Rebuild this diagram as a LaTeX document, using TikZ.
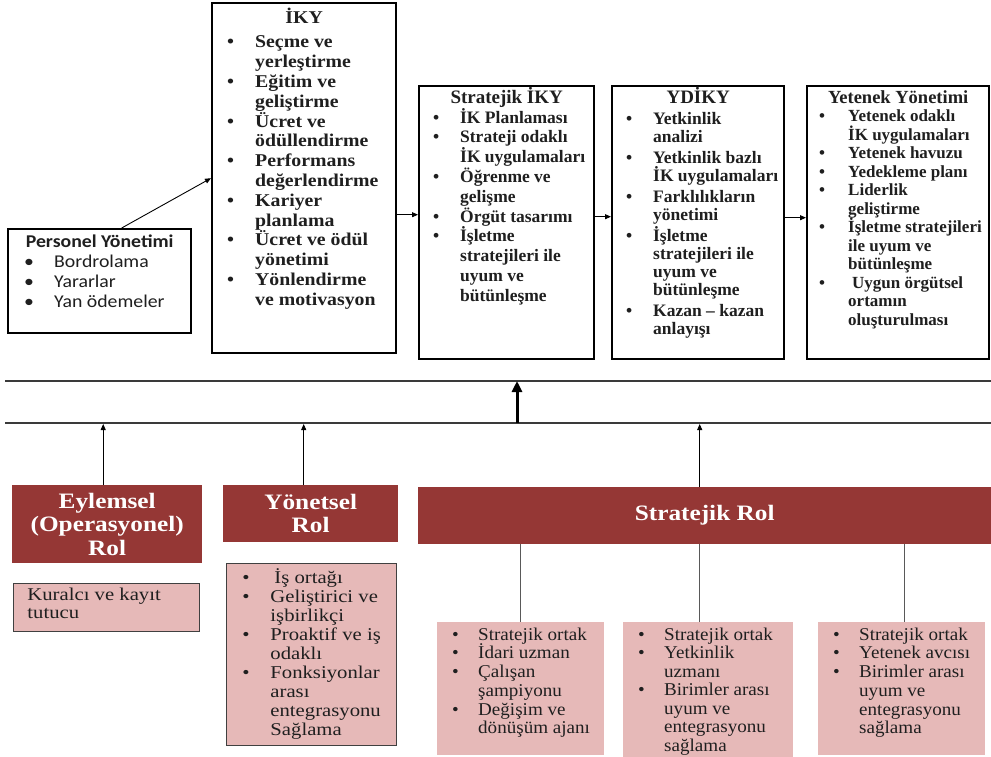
\documentclass[tikz,border=0pt]{standalone}
\usepackage{fontspec}
\setmainfont{Liberation Serif}
\newfontfamily\wideserif[FakeStretch=1.15]{Liberation Serif}
\newfontfamily\ikyserif[FakeStretch=1.1]{Liberation Serif}
\newfontfamily\midserif[FakeStretch=1.06]{Liberation Serif}
\newfontfamily\calibri[FakeStretch=1.1]{Carlito}
\usetikzlibrary{arrows.meta,positioning,calc}
\definecolor{rolered}{HTML}{953735}
\definecolor{rolepink}{HTML}{E6B9B8}
\definecolor{pinkedge}{HTML}{404040}
\definecolor{linegray}{HTML}{595959}
\definecolor{railgray}{HTML}{3A3A3A}
\definecolor{inktext}{HTML}{1F1F1F}

\newlength\bulx \newlength\txtx \newlength\itemgap
\setlength\bulx{15pt}\setlength\txtx{43pt}\setlength\itemgap{0pt}
\newcommand\bitem[1]{\par\vspace{\itemgap}\hangindent=\txtx\hangafter=1\noindent
  \makebox[\txtx][l]{\hspace*{\bulx}\textbullet}#1}
\newcommand\btitle[1]{\par\noindent\hbox to\linewidth{\hss#1\hss}}
% width, height, first baseline, font setup, content
\newcommand\cellbox[5]{\parbox[c][#2][t]{#1}{#4\lineskiplimit=-100pt\relax\raggedright
  \hbox{}\vskip\dimexpr#3-\baselineskip\relax#5}}

\begin{document}
\begin{tikzpicture}[x=1pt,y=-1pt,
  hrbox/.style={draw=black,line width=2.4pt,inner sep=0pt,anchor=north west,text=inktext},
  rolebox/.style={fill=rolered,text=white,inner sep=0pt,anchor=north west,align=center,
    font=\wideserif\bfseries\fontsize{22}{23.5}\selectfont},
  notebox/.style={fill=rolepink,inner sep=0pt,anchor=north west,text=inktext},
  link/.style={-{Triangle[length=6pt,width=5pt]},line width=0.9pt},
  bigup/.style={-{Triangle[length=11pt,width=10pt]},line width=3pt},
  rail/.style={draw=railgray,line width=1.2pt},
  drop/.style={draw=linegray,line width=1.3pt},
]
\useasboundingbox (0,0) rectangle (991,757);

% ============ upper row: HR stages ============
\node[hrbox] (pers) at (7,228) {\cellbox{183pt}{104pt}{18pt}%
  {\calibri\fontsize{18}{20}\selectfont\setlength\bulx{16pt}\setlength\txtx{46pt}}{%
  \btitle{\bfseries Personel Yönetimi}
  \bitem{Bordrolama}
  \bitem{Yararlar}
  \bitem{Yan ödemeler}}};
\node[hrbox] (iky) at (211,2) {\cellbox{184pt}{350pt}{20pt}%
  {\ikyserif\bfseries\fontsize{18}{19.8}\selectfont}{%
  \btitle{İKY}\par\vspace{5pt}
  \bitem{Seçme ve\newline yerleştirme}
  \bitem{Eğitim ve\newline geliştirme}
  \bitem{Ücret ve\newline ödüllendirme}
  \bitem{Performans\newline değerlendirme}
  \bitem{Kariyer\newline planlama}
  \bitem{Ücret ve ödül\newline yönetimi}
  \bitem{Yönlendirme\newline ve motivasyon}}};
\node[hrbox] (sik) at (418,85) {\cellbox{175pt}{273pt}{17pt}%
  {\bfseries\fontsize{17.5}{19.8}\selectfont\setlength\bulx{14pt}\setlength\txtx{41pt}}{%
  \btitle{\fontsize{19}{19.8}\selectfont Stratejik İKY}
  \bitem{İK Planlaması}
  \bitem{Strateji odaklı\newline İK uygulamaları}
  \bitem{Öğrenme ve\newline gelişme}
  \bitem{Örgüt tasarımı}
  \bitem{İşletme\newline stratejileri ile\newline uyum ve\newline bütünleşme}}};
\node[hrbox] (ydk) at (611,85) {\cellbox{172pt}{273pt}{17pt}%
  {\bfseries\fontsize{17.5}{18}\selectfont\setlength\bulx{14pt}\setlength\txtx{41pt}\setlength\itemgap{3pt}}{%
  \btitle{\fontsize{19}{18}\selectfont YDİKY}
  \bitem{Yetkinlik\newline analizi}
  \bitem{Yetkinlik bazlı\newline İK uygulamaları}
  \bitem{Farklılıkların\newline yönetimi}
  \bitem{İşletme\newline stratejileri ile\newline uyum ve\newline bütünleşme}
  \bitem{Kazan – kazan\newline anlayışı}}};
\node[hrbox] (ytn) at (806,85) {\cellbox{182pt}{273pt}{17pt}%
  {\bfseries\fontsize{17}{18.5}\selectfont\setlength\bulx{12pt}\setlength\txtx{41pt}}{%
  \btitle{\fontsize{18.5}{18.5}\selectfont Yetenek Yönetimi}
  \bitem{Yetenek odaklı\newline İK uygulamaları}
  \bitem{Yetenek havuzu}
  \bitem{Yedekleme planı}
  \bitem{Liderlik\newline geliştirme}
  \bitem{İşletme stratejileri\newline ile uyum ve\newline bütünleşme}
  \bitem{\hspace*{4pt}Uygun örgütsel\newline ortamın\newline oluşturulması}}};

\draw[link] ($(pers.north)+(22,0)$) -- (iky.west);
\draw[link] ($(sik.west -| iky.east)+(0,-8)$) -- ($(sik.west)+(0,-8)$);
\draw[link] ($(ydk.west -| sik.east)+(0,-6)$) -- ($(ydk.west)+(0,-6)$);
\draw[link] ($(ytn.west -| ydk.east)+(0,-5)$) -- ($(ytn.west)+(0,-5)$);

% ============ rails ============
\coordinate (railAw) at (5,381);
\coordinate (railAe) at (991,381);
\coordinate (railBw) at (5,423);
\coordinate (railBe) at (991,423);
\coordinate (hub) at (517,423);
\draw[rail] (railAw) -- (railAe);
\draw[rail] (railBw) -- (railBe);
\draw[bigup] (hub) -- (hub |- railAw);

% ============ lower row: roles ============
\node[rolebox,minimum width=190pt,minimum height=78pt] (eyl) at (12,485) {Eylemsel\\(Operasyonel)\\Rol};
\node[rolebox,minimum width=175pt,minimum height=57pt] (ynt) at (223,485) {Yönetsel\\Rol};
\node[rolebox,minimum width=573pt,minimum height=57pt] (srol) at (418,487) {Stratejik Rol};

\draw[link] ($(eyl.north)+(-4,0)$) -- ($(eyl.north |- railBw)+(-4,1)$);
\draw[link] ($(ynt.north)+(-7,0)$) -- ($(ynt.north |- railBw)+(-7,1)$);
\draw[link] ($(srol.north)+(-5,0)$) -- ($(srol.north |- railBw)+(-5,1)$);

\node[notebox,draw=pinkedge,line width=0.9pt] (kural) at (13,583) {\cellbox{186pt}{48pt}{17pt}%
  {\wideserif\fontsize{18}{18}\selectfont}{%
  \noindent\hspace*{14pt}Kuralcı ve kayıt\newline\hspace*{14pt}tutucu}};
\node[notebox,draw=pinkedge,line width=0.9pt] (yntlist) at (226,563) {\cellbox{170pt}{182pt}{20pt}%
  {\wideserif\fontsize{18}{19}\selectfont\setlength\bulx{16pt}\setlength\txtx{44pt}}{%
  \bitem{\hspace*{4pt}İş ortağı}
  \bitem{Geliştirici ve\newline işbirlikçi}
  \bitem{Proaktif ve iş\newline odaklı}
  \bitem{Fonksiyonlar\newline arası\newline entegrasyonu\newline Sağlama}}};

\node[notebox] (sub1) at (437,622) {\cellbox{167pt}{133pt}{18pt}%
  {\midserif\fontsize{18}{18.7}\selectfont\setlength\bulx{15pt}\setlength\txtx{41pt}}{%
  \bitem{Stratejik ortak}
  \bitem{İdari uzman}
  \bitem{Çalışan\newline şampiyonu}
  \bitem{Değişim ve\newline dönüşüm ajanı}}};
\node[notebox] (sub2) at (623,622) {\cellbox{170pt}{135pt}{18pt}%
  {\midserif\fontsize{18}{18.5}\selectfont\setlength\bulx{15pt}\setlength\txtx{41pt}}{%
  \bitem{Stratejik ortak}
  \bitem{Yetkinlik\newline uzmanı}
  \bitem{Birimler arası\newline uyum ve\newline entegrasyonu\newline sağlama}}};
\node[notebox] (sub3) at (818,622) {\cellbox{167pt}{133pt}{18pt}%
  {\midserif\fontsize{18}{18.7}\selectfont\setlength\bulx{15pt}\setlength\txtx{41pt}}{%
  \bitem{Stratejik ortak}
  \bitem{Yetenek avcısı}
  \bitem{Birimler arası\newline uyum ve\newline entegrasyonu\newline sağlama}}};

\draw[drop] (sub1.north |- srol.south) -- (sub1.north);
\draw[drop] ($(sub2.north |- srol.south)+(-9,0)$) -- ($(sub2.north)+(-9,0)$);
\draw[drop] ($(sub3.north |- srol.south)+(3,0)$) -- ($(sub3.north)+(3,0)$);

\end{tikzpicture}
\end{document}
